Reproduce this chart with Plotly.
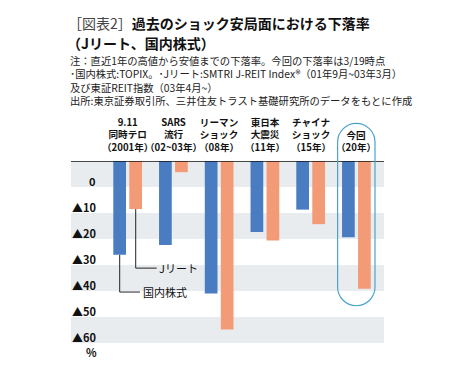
import plotly.graph_objects as go

# ---- data ----
categories = [
    ["9.11", "同時テロ", "（2001年）"],
    ["SARS", "流行", "（02~03年）"],
    ["リーマン", "ショック", "（08年）"],
    ["東日本", "大震災", "（11年）"],
    ["チャイナ", "ショック", "（15年）"],
    ["今回", "（20年）"],
]
stocks = [-36.1, -32.3, -51.0, -27.3, -18.7, -29.3]   # 国内株式
reit = [-18.5, -4.3, -64.8, -30.6, -24.3, -49.1]      # Jリート
tick_labels = ["0", "▲10", "▲20", "▲30", "▲40", "▲50", "▲60"]
tick_steps = [0, 10, 20, 30, 40, 50, 60]

title1 = "<span style='color:#444'>［図表2］</span><b>過去のショック安局面における下落率</b>"
title2 = "<b>（Jリート、国内株式）</b>"
notes = [
    "注：直近1年の高値から安値までの下落率。今回の下落率は3/19時点",
    "･国内株式:TOPIX。･Jリート:SMTRI J-REIT Index®（01年9月~03年3月）",
    "及び東証REIT指数（03年4月~）",
    "出所:東京証券取引所、三井住友トラスト基礎研究所のデータをもとに作成",
]

# ---- layout geometry (pixels) ----
W, H = 452, 373
PL, PR, PT, PB = 71, 384, 161, 343.3
FONT = "Noto Sans CJK JP"
BLUE = "#4a7cc2"
ORANGE = "#f39b77"
BAND = "#e9ecef"
OVAL = "#4aa3cc"

def px(x):
    return (x - PL) / (PR - PL)

def py(y):
    return (PB - y) / (PB - PT)

idx = list(range(len(categories)))
bw = 0.278

fig = go.Figure()
fig.add_trace(go.Bar(x=idx, y=stocks, width=bw, offset=-0.315,
                     marker=dict(color=BLUE, line=dict(width=0)), name="国内株式"))
fig.add_trace(go.Bar(x=idx, y=reit, width=bw, offset=0.035,
                     marker=dict(color=ORANGE, line=dict(width=0)), name="Jリート"))

shapes = []
# alternating bands
for k in range(7):
    if k % 2 == 0:
        shapes.append(dict(type="rect", xref="paper", yref="y", x0=0, x1=1,
                           y0=-10 * k, y1=-10 * (k + 1), fillcolor=BAND,
                           line=dict(width=0), layer="below"))
# top line
shapes.append(dict(type="line", xref="paper", yref="y", x0=0, x1=1, y0=0, y1=0,
                   line=dict(color="#111", width=1.5), layer="above"))

# leader lines
s_x = -0.175
r_x = 0.175
shapes.append(dict(type="path", xref="x", yref="y",
                   path=f"M{r_x},{reit[0]} L{r_x},-41.2 L0.634,-41.2",
                   line=dict(color="#222", width=1)))
shapes.append(dict(type="path", xref="x", yref="y",
                   path=f"M{s_x},{stocks[0]} L{s_x},-50.4 L0.269,-50.4",
                   line=dict(color="#222", width=1)))

# rounded outline around the latest group
ox0, ox1 = 337.6, 375.0
oy0, oy1 = 123.3, 306.0
r = (ox1 - ox0) / 2
k = 0.5523 * r
cx = (ox0 + ox1) / 2
def P(x, y):
    return f"{px(x):.5f},{py(y):.5f}"
path = (
    f"M{P(ox0, oy0 + r)} "
    f"C{P(ox0, oy0 + r - k)} {P(cx - k, oy0)} {P(cx, oy0)} "
    f"C{P(cx + k, oy0)} {P(ox1, oy0 + r - k)} {P(ox1, oy0 + r)} "
    f"L{P(ox1, oy1 - r)} "
    f"C{P(ox1, oy1 - r + k)} {P(cx + k, oy1)} {P(cx, oy1)} "
    f"C{P(cx - k, oy1)} {P(ox0, oy1 - r + k)} {P(ox0, oy1 - r)} Z"
)
shapes.append(dict(type="path", xref="paper", yref="paper", path=path,
                   line=dict(color=OVAL, width=1.2), fillcolor="rgba(0,0,0,0)",
                   layer="above"))

ann = []
# titles
ann.append(dict(text=title1, xref="paper", yref="paper", x=px(66), y=py(22.7),
                xanchor="left", yanchor="middle", showarrow=False,
                font=dict(family=FONT, size=14, color="#111")))
ann.append(dict(text=title2, xref="paper", yref="paper", x=px(65), y=py(43),
                xanchor="left", yanchor="middle", showarrow=False,
                font=dict(family=FONT, size=14, color="#111")))
ann.append(dict(text="<br>".join(notes), xref="paper", yref="paper", x=px(68),
                y=py(80), xanchor="left", yanchor="middle", align="left",
                showarrow=False, font=dict(family=FONT, size=10.3, color="#222")))
# category labels (bottom aligned)
for i, lines in enumerate(categories):
    ann.append(dict(text="<b>" + "<br>".join(lines) + "</b>", xref="x", yref="paper",
                    x=i, y=py(155.5), xanchor="center", yanchor="bottom",
                    align="center", showarrow=False,
                    font=dict(family=FONT, size=9.6, color="#111")))
# y tick labels
for lab, st in zip(tick_labels, tick_steps):
    ann.append(dict(text=f"<b>{lab}</b>", xref="paper", yref="y", x=px(97.5),
                    y=-7.5 - st, xanchor="right", yanchor="middle", showarrow=False,
                    font=dict(family=FONT, size=11, color="#111")))
ann.append(dict(text="<b>%</b>", xref="paper", yref="paper", x=px(91.5), y=py(352.5),
                xanchor="center", yanchor="middle", showarrow=False,
                font=dict(family=FONT, size=11, color="#111")))
# callout labels
ann.append(dict(text="Jリート", xref="x", yref="y", x=0.645, y=-41.2,
                xanchor="left", yanchor="middle", showarrow=False,
                font=dict(family=FONT, size=11, color="#111")))
ann.append(dict(text="国内株式", xref="x", yref="y", x=0.28, y=-50.4,
                xanchor="left", yanchor="middle", showarrow=False,
                font=dict(family=FONT, size=11, color="#111")))

xr0 = -(127.7 - PL) / 45.75
xr1 = 5 + (PR - 356.45) / 45.75

fig.update_layout(
    width=W, height=H,
    margin=dict(l=PL, r=W - PR, t=PT, b=H - PB, pad=0),
    paper_bgcolor="white", plot_bgcolor="white",
    showlegend=False,
    barmode="overlay",
    shapes=shapes,
    annotations=ann,
    font=dict(family=FONT),
    xaxis=dict(range=[xr0, xr1], visible=False, fixedrange=True),
    yaxis=dict(range=[-70, 0], visible=False, fixedrange=True),
)

fig.write_html("out.html", config={"displayModeBar": False},
               post_script="document.body.style.margin='0';document.body.style.overflow='hidden';")
